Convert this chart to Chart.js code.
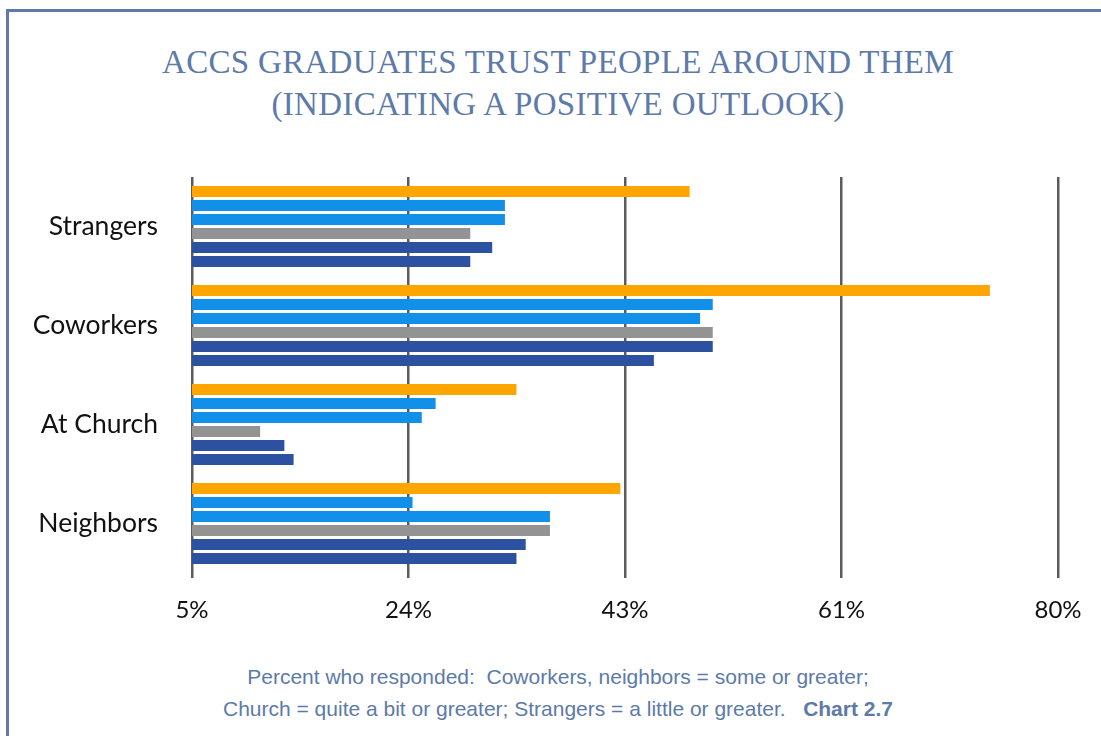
<!DOCTYPE html>
<html>
<head>
<meta charset="utf-8">
<script src="https://cdn.jsdelivr.net/npm/chart.js@4"></script>
<style>
  html, body { margin: 0; padding: 0; background: #fff; }
  body { width: 1101px; height: 736px; position: relative; overflow: hidden; }
  #frame { position: absolute; left: 6px; top: 9px; right: -10px; bottom: -10px;
           border-left: 3px solid #5d7aa8; border-top: 3px solid #5d7aa8; }
  #title { position: absolute; left: 0; width: 1116px; top: 41px; text-align: center;
           font-family: "Liberation Serif", serif; font-size: 33px; line-height: 42px;
           color: #5d7aa8; letter-spacing: 0.3px; }
  #note { position: absolute; left: 0; width: 1116px; top: 661px; text-align: center;
          font-family: "Liberation Sans", sans-serif; font-size: 21px; line-height: 32px;
          color: #5d7aa8; }
  #wrap { position: absolute; left: 0; top: 0; width: 1101px; height: 736px; }
</style>
</head>
<body>
<div id="frame"></div>
<div id="title">ACCS GRADUATES TRUST PEOPLE AROUND THEM<br>(INDICATING A POSITIVE OUTLOOK)</div>
<div id="note">Percent who responded:&nbsp; Coworkers, neighbors = some or greater;<br>Church = quite a bit or greater; Strangers = a little or greater. &nbsp; <b>Chart 2.7</b></div>
<div id="wrap"><canvas id="chart" width="1101" height="736"></canvas></div>
<script>
// カテゴリ
var categories = ["Strangers", "Coworkers", "At Church", "Neighbors"];
// 目盛りラベル
var tickLabels = ["5%", "24%", "43%", "61%", "80%"];
// 系列の値(上から順番)
var series1 = [48.1, 74.1, 33.1, 42.1];
var series2 = [32.1, 50.1, 26.1, 24.1];
var series3 = [32.1, 49.0, 24.9, 36.0];
var series4 = [29.1, 50.1, 10.9, 36.0];
var series5 = [31.0, 50.1, 13.0, 33.9];
var series6 = [29.1, 45.0, 13.8, 33.1];

var colors = ["#ffa500", "#1190ea", "#1190ea", "#939393", "#2b51a0", "#2b51a0"];
var allSeries = [series1, series2, series3, series4, series5, series6];

var ctx = document.getElementById("chart");
var myChart = new Chart(ctx, {
    type: 'bar',
    data: {
        labels: categories,
        datasets: allSeries.map(function (s, i) {
            return {
                label: "Series " + (i + 1),
                data: s,
                backgroundColor: colors[i],
                borderWidth: 0,
                categoryPercentage: 0.85,
                barPercentage: 0.79
            };
        })
    },
    options: {
        indexAxis: 'y',
        responsive: false,
        animation: false,
        devicePixelRatio: 1,
        layout: { padding: { top: 177, left: 0, right: 43, bottom: 113 } },
        plugins: {
            legend: { display: false },
            tooltip: { enabled: false }
        },
        scales: {
            x: {
                min: 5,
                max: 80,
                z: 1,
                afterBuildTicks: function (axis) {
                    axis.ticks = [5, 23.75, 42.5, 61.25, 80].map(function (v) { return { value: v }; });
                },
                afterFit: function (axis) { axis.height = 50; },
                border: { display: false },
                grid: { color: '#5c5c5c', lineWidth: 2.5, drawTicks: true, tickLength: 5 },
                ticks: {
                    padding: 18,
                    color: '#111',
                    font: { family: 'Lato, "Liberation Sans", sans-serif', size: 24 },
                    maxRotation: 0,
                    callback: function (v, i) { return tickLabels[i]; }
                }
            },
            y: {
                afterFit: function (axis) { axis.width = 192; },
                border: { display: false },
                grid: { display: false, drawTicks: false },
                ticks: {
                    padding: 34,
                    color: '#111',
                    font: { family: 'Lato, "Liberation Sans", sans-serif', size: 26.5 }
                }
            }
        }
    }
});
</script>
</body>
</html>
